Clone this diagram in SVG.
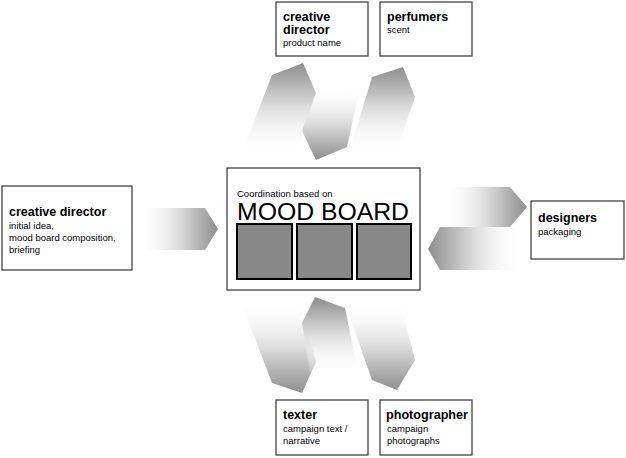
<svg xmlns="http://www.w3.org/2000/svg" width="626" height="458" viewBox="0 0 626 458">
<defs>
<linearGradient id="gUp" x1="0" y1="0" x2="0" y2="1"><stop offset="0" stop-color="#8e8e8e"/><stop offset="0.5" stop-color="#dcdcdc"/><stop offset="1" stop-color="#fff" stop-opacity="0.2"/></linearGradient>
<linearGradient id="gDown" x1="0" y1="1" x2="0" y2="0"><stop offset="0" stop-color="#8e8e8e"/><stop offset="0.5" stop-color="#dcdcdc"/><stop offset="1" stop-color="#fff" stop-opacity="0.2"/></linearGradient>
<linearGradient id="gRight" x1="1" y1="0" x2="0" y2="0"><stop offset="0" stop-color="#8e8e8e"/><stop offset="0.5" stop-color="#dcdcdc"/><stop offset="1" stop-color="#fff" stop-opacity="0.2"/></linearGradient>
<linearGradient id="gLeft" x1="0" y1="0" x2="1" y2="0"><stop offset="0" stop-color="#8e8e8e"/><stop offset="0.5" stop-color="#dcdcdc"/><stop offset="1" stop-color="#fff" stop-opacity="0.2"/></linearGradient>
</defs>
<style>
.box{fill:#fff;stroke:#333;stroke-width:1.2}
.t{font-family:"Liberation Sans",Arial,sans-serif;fill:#000}
.h{font-size:12.5px;font-weight:bold}
.s{font-size:9.5px}
.sq{fill:#888;stroke:#000;stroke-width:2}
</style>
<g id="connectors">
<polygon points="243,150 272,75 303,63 316,93 297,150" fill="url(#gUp)"/>
<polygon points="316,92 360,87 347,147 316,160 302,131" fill="url(#gDown)"/>
<polygon points="350,150 372,77 403,67 415,97 397,150" fill="url(#gUp)"/>
<polygon points="243,307 300,303 316,362 302,393 272,383" fill="url(#gDown)"/>
<polygon points="310,372 302,323 315,297 345,308 358,372" fill="url(#gUp)"/>
<polygon points="345,303 400,303 415,360 397,390 372,380" fill="url(#gDown)"/>
<polygon points="140,208 205,208 218,229 205,250 140,250" fill="url(#gRight)"/>
<polygon points="445,187 510,187 527,207 510,227 445,227" fill="url(#gRight)"/>
<polygon points="520,227 440,227 428,249 440,270 520,270" fill="url(#gLeft)"/>
</g>
<g id="cd-top"><rect class="box" x="276" y="2" width="92" height="54"/>
<text class="t h" x="283" y="21">creative</text><text class="t h" x="283" y="34">director</text><text class="t s" x="283" y="46">product name</text></g>
<g id="perfumers"><rect class="box" x="380" y="2" width="92" height="54"/>
<text class="t h" x="387" y="21">perfumers</text><text class="t s" x="387" y="33">scent</text></g>
<g id="cd-left"><rect class="box" x="2" y="186" width="130" height="84"/>
<text class="t h" x="9" y="216">creative director</text><text class="t s" x="9" y="229">initial idea,</text><text class="t s" x="9" y="241">mood board composition,</text><text class="t s" x="9" y="253">briefing</text></g>
<g id="board"><rect class="box" x="227" y="168" width="193" height="122"/>
<text class="t" x="237" y="197" font-size="9.5">Coordination based on</text>
<text class="t" x="237" y="220" font-size="23" textLength="172" lengthAdjust="spacingAndGlyphs">MOOD BOARD</text>
<rect class="sq" x="237" y="224" width="55" height="55"/><rect class="sq" x="297" y="224" width="55" height="55"/><rect class="sq" x="357" y="224" width="54" height="55"/></g>
<g id="designers"><rect class="box" x="531" y="201" width="93" height="58"/>
<text class="t h" x="538" y="222">designers</text><text class="t s" x="538" y="235">packaging</text></g>
<g id="texter"><rect class="box" x="276" y="400" width="92" height="55"/>
<text class="t h" x="283" y="419">texter</text><text class="t s" x="283" y="432">campaign text /</text><text class="t s" x="283" y="444">narrative</text></g>
<g id="photographer"><rect class="box" x="380" y="400" width="92" height="55"/>
<text class="t h" x="386" y="419" textLength="82" lengthAdjust="spacingAndGlyphs">photographer</text><text class="t s" x="387" y="432">campaign</text><text class="t s" x="387" y="444">photographs</text></g>
</svg>
